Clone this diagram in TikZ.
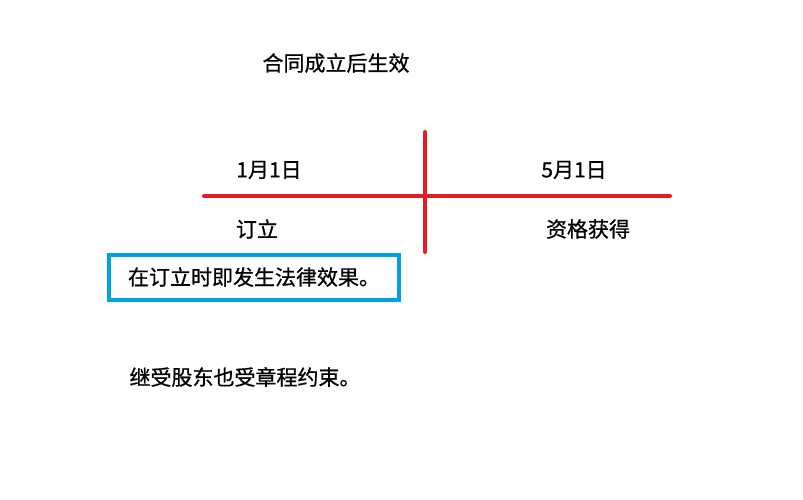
\documentclass[tikz,border=0pt]{standalone}
\usepackage{fontspec}
\newfontfamily\cjk{Noto Sans CJK SC}[FakeBold=0.8]
\definecolor{redline}{RGB}{230,28,36}
\definecolor{bluebox}{RGB}{0,160,230}
\begin{document}
\begin{tikzpicture}[x=1pt,y=-1pt,
  lbl/.style={font=\cjk\fontsize{21}{25}\selectfont, text=black, inner sep=0pt, anchor=center},
  redln/.style={draw=redline, line width=4pt, line cap=round},
  boxst/.style={draw=bluebox, line width=4pt, minimum width=290pt, minimum height=45pt, inner sep=0pt}]
\useasboundingbox (0,0) rectangle (803,500);
\node[lbl] (title) at (336,63) {合同成立后生效};
\coordinate (hl) at (204,196);
\coordinate (hr) at (670,196);
\coordinate (vt) at (425,132);
\coordinate (vb) at (425,252);
\draw[redln] (hl) -- (hr);
\draw[redln] (vt) -- (vb);
\node[lbl] (d1) at (269,170) {1月1日};
\node[lbl] (d2) at (574,170) {5月1日};
\node[lbl] (s1) at (257,229) {订立};
\node[lbl] (s2) at (588,229) {资格获得};
\node[boxst, lbl] (box) at (254,277) {在订立时即发生法律效果。};
\node[lbl] (note) at (245,377) {继受股东也受章程约束。};
\end{tikzpicture}
\end{document}
